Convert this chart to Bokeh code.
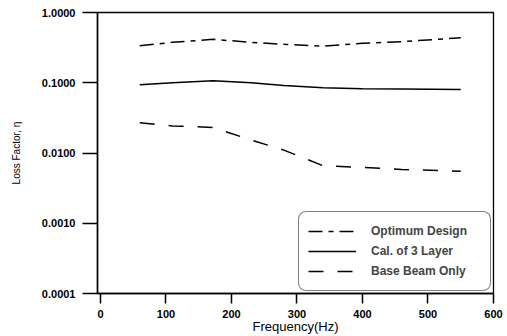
from bokeh.plotting import figure
from bokeh.models import FixedTicker, Legend, LegendItem, Range1d
from bokeh.embed import file_html
from bokeh.resources import INLINE

freq = [60, 110, 172, 230, 280, 340, 400, 460, 550]
optimum = [0.336, 0.376, 0.415, 0.376, 0.352, 0.333, 0.364, 0.384, 0.438]
cal3 = [0.0935, 0.100, 0.1066, 0.100, 0.0916, 0.0847, 0.082, 0.0813, 0.0803]
base = [0.0269, 0.0243, 0.0231, 0.0153, 0.0110, 0.00657, 0.00623, 0.00583, 0.0055]

xticks = [0, 100, 200, 300, 400, 500, 600]
yticks = [0.0001, 0.001, 0.01, 0.1, 1.0]
ytick_labels = ["0.0001", "0.0010", "0.0100", "0.1000", "1.0000"]
series_names = ["Optimum Design", "Cal. of 3 Layer", "Base Beam Only"]

FONT = "Liberation Sans"

p = figure(width=507, height=336, output_backend="svg", toolbar_location=None,
           y_axis_type="log", x_range=Range1d(-4.5, 600), y_range=Range1d(0.0001, 1.0),
           min_border_left=97, min_border_right=14, min_border_top=12, min_border_bottom=43)
p.background_fill_color = "white"
p.border_fill_color = "white"
p.outline_line_color = "black"
p.outline_line_width = 1.3
p.xgrid.visible = False
p.ygrid.visible = False

r1 = p.line(freq, optimum, line_color="black", line_width=1.5, line_dash="14 6 5 6")
r2 = p.line(freq, cal3, line_color="black", line_width=1.5)
r3 = p.line(freq, base, line_color="black", line_width=1.5, line_dash="15 14")

for ax in (p.xaxis[0], p.yaxis[0]):
    ax.axis_line_color = "black"
    ax.axis_line_width = 1.5
    ax.major_tick_line_color = "black"
    ax.major_tick_line_width = 1.5
    ax.minor_tick_line_color = None
    ax.major_tick_in = 0
    ax.major_label_text_font = FONT
    ax.major_label_text_font_style = "bold"
    ax.major_label_text_font_size = "11px"
    ax.major_label_text_color = "black"
    ax.axis_label_text_font = FONT
    ax.axis_label_text_font_style = "normal"
    ax.axis_label_text_color = "black"

p.xaxis.ticker = FixedTicker(ticks=xticks)
p.xaxis.major_tick_out = 10
p.xaxis.major_label_standoff = 6
p.xaxis.axis_label = "Frequency(Hz)"
p.xaxis.axis_label_text_font_size = "13px"
p.xaxis.axis_label_standoff = -2

p.yaxis.ticker = FixedTicker(ticks=yticks)
p.yaxis.major_label_overrides = {t: l for t, l in zip(yticks, ytick_labels)}
p.yaxis.major_tick_out = 15
p.yaxis.major_label_standoff = 7
p.yaxis.axis_label = "Loss Factor, η"
p.yaxis.axis_label_text_font_size = "10px"
p.yaxis.axis_label_standoff = 17

legend = Legend(items=[LegendItem(label=n, renderers=[r]) for n, r in zip(series_names, [r1, r2, r3])],
                location="bottom_right", margin=2, padding=9, spacing=0,
                glyph_width=48, glyph_height=20, label_height=20, label_width=110,
                label_standoff=15, label_text_font=FONT, label_text_font_style="bold",
                label_text_font_size="12px", border_line_color="black", border_line_width=1.5,
                background_fill_color="white", background_fill_alpha=1.0)
legend.border_radius = 8
p.add_layout(legend)

open("out.html", "w").write(file_html(p, INLINE))
